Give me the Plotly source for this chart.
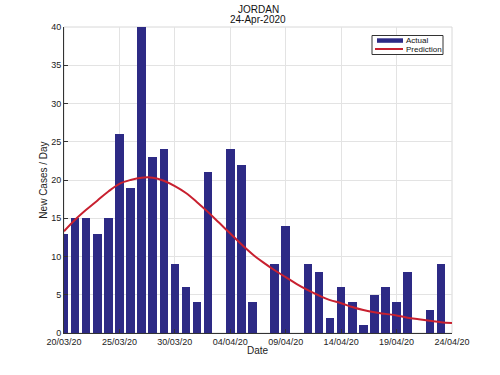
import plotly.graph_objects as go
import pandas as pd

dates = pd.date_range("2020-03-20", "2020-04-24", freq="D")
actual = [13, 15, 15, 13, 15, 26, 19, 40, 23, 24, 9, 6, 4, 21, 0, 24, 22, 4,
          0, 9, 14, 0, 9, 8, 2, 6, 4, 1, 5, 6, 4, 8, 0, 3, 9, 0]
prediction = [13.3, 14.8, 16.1, 17.3, 18.5, 19.5, 20.0, 20.3, 20.3, 19.9, 19.2,
              18.3, 17.1, 15.8, 14.4, 13.0, 11.6, 10.3, 9.2, 8.2, 7.3, 6.4,
              5.6, 4.9, 4.3, 3.9, 3.4, 3.0, 2.7, 2.5, 2.3, 2.0, 1.8, 1.6, 1.4, 1.3]
bar_color = "#2D2A85"
line_color = "#C8202F"

font = "Liberation Sans, Arial, sans-serif"
L, T = 64, 27
PW, PH = 388, 306
W, H = 500, 375
R = W - L - PW
B = H - T - PH

fig = go.Figure()
fig.add_trace(go.Bar(x=dates, y=actual, name="Actual",
                     marker=dict(color=bar_color, line=dict(width=0)),
                     width=0.77 * 86400000))
fig.add_trace(go.Scatter(x=dates, y=prediction, name="Prediction", mode="lines",
                         line=dict(color=line_color, width=2, shape="spline")))

def px(x):  # screen x -> paper
    return (x - L) / PW

def py(y):  # screen y -> paper
    return (T + PH - y) / PH

fig.update_layout(
    width=W, height=H,
    margin=dict(l=L, r=R, t=T, b=B),
    paper_bgcolor="white", plot_bgcolor="white",
    font=dict(family=font, size=9, color="#222"),
    showlegend=False,
    bargap=0,
)
fig.update_xaxes(
    type="date", range=["2020-03-20", "2020-04-24"],
    tick0="2020-03-20", dtick=5 * 86400000, tickformat="%d/%m/%y",
    showgrid=True, gridcolor="#E3E3E3", gridwidth=1,
    showline=True, linecolor="#333", linewidth=1, mirror=False,
    ticks="inside", ticklen=4, tickcolor="#333",
    tickfont=dict(size=9),
)
fig.update_yaxes(
    range=[0, 40], dtick=5,
    showgrid=True, gridcolor="#E3E3E3", gridwidth=1,
    showline=True, linecolor="#333", linewidth=1,
    ticks="inside", ticklen=4, tickcolor="#333",
    zeroline=False,
    title=dict(text="New Cases / Day", font=dict(size=10), standoff=1),
    tickfont=dict(size=9),
)
# light box on top/right
fig.add_shape(type="rect", xref="paper", yref="paper", x0=0, y0=0, x1=1, y1=1,
              line=dict(color="#D8D8D8", width=1), layer="below")

# x-axis title
fig.add_annotation(text="Date", xref="paper", yref="paper", x=0.5, y=py(350.5),
                   showarrow=False, xanchor="center", yanchor="middle",
                   font=dict(size=10, color="#222"))

# title (two lines)
fig.add_annotation(text="JORDAN", xref="paper", yref="paper", x=0.5, y=py(9.5),
                   showarrow=False, xanchor="center", yanchor="middle",
                   font=dict(size=10, color="#111"))
fig.add_annotation(text="24-Apr-2020", xref="paper", yref="paper", x=0.5, y=py(19.5),
                   showarrow=False, xanchor="center", yanchor="middle",
                   font=dict(size=10, color="#111"))

# compact MATLAB-style legend
fig.add_shape(type="rect", xref="paper", yref="paper",
              x0=px(372), x1=px(443), y0=py(54.5), y1=py(35.5),
              line=dict(color="#333", width=1), fillcolor="white")
fig.add_shape(type="rect", xref="paper", yref="paper",
              x0=px(377), x1=px(403), y0=py(42.8), y1=py(38.3),
              line=dict(width=0), fillcolor=bar_color)
fig.add_shape(type="line", xref="paper", yref="paper",
              x0=px(375), x1=px(403), y0=py(49), y1=py(49),
              line=dict(color=line_color, width=2))
fig.add_annotation(text="Actual", xref="paper", yref="paper", x=px(405), y=py(40.3),
                   showarrow=False, xanchor="left", yanchor="middle", borderpad=0,
                   font=dict(size=8, color="#111"))
fig.add_annotation(text="Prediction", xref="paper", yref="paper", x=px(405), y=py(49.3),
                   showarrow=False, xanchor="left", yanchor="middle", borderpad=0,
                   font=dict(size=8, color="#111"))

fig.write_html("out.html", config={"displayModeBar": False},
               post_script="document.body.style.margin='0';")
